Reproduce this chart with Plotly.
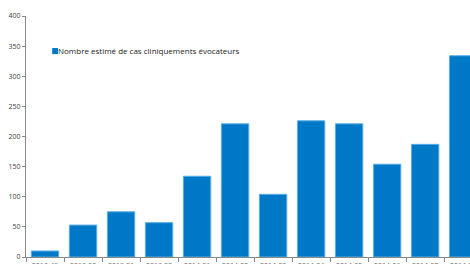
import plotly.graph_objects as go

weeks = ["2013-49", "2013-50", "2013-51", "2013-52", "2014-01", "2014-02",
         "2014-03", "2014-04", "2014-05", "2014-06", "2014-07", "2014-08"]
cases = [10, 53, 75, 57, 134, 221, 104, 226, 221, 154, 187, 334]
series_name = "Nombre estimé de cas cliniquements évocateurs"
y_ticks = [0, 50, 100, 150, 200, 250, 300, 350, 400]

fig = go.Figure()
fig.add_trace(go.Bar(
    x=weeks, y=cases, name=series_name,
    marker=dict(color="#0078C8", line=dict(color="#5AAEE6", width=1)),
    width=0.72, showlegend=False,
))

# legend key drawn as a small square + label (paper coordinates)
fig.add_shape(type="rect", xref="paper", yref="paper",
              x0=0.059, x1=0.072, y0=0.842, y1=0.867,
              fillcolor="#0078C8", line=dict(color="#0078C8", width=0))
fig.add_annotation(text=series_name, xref="paper", yref="paper",
                   x=0.068, y=0.855, xanchor="left", yanchor="middle",
                   showarrow=False, font=dict(size=8, color="#222"))

fig.update_layout(
    width=470, height=264,
    margin=dict(l=26, r=0, t=16, b=7),
    paper_bgcolor="white", plot_bgcolor="white",
    font=dict(family="Open Sans, Noto Sans, sans-serif", size=7, color="#404040"),
    showlegend=False,
)
fig.update_xaxes(
    type="category", range=[-0.5, 11.18], automargin=False,
    showline=True, linecolor="#888", linewidth=1,
    ticks="outside", tickson="boundaries", ticklen=4, tickcolor="#888",
    ticklabelstandoff=2,
    showgrid=False, tickfont=dict(size=7, color="#666"),
)
fig.update_yaxes(
    range=[0, 400], tickvals=y_ticks, automargin=False,
    showline=True, linecolor="#888", linewidth=1,
    ticks="outside", ticklen=3, tickcolor="#888",
    showgrid=False, zeroline=False, tickfont=dict(size=7, color="#404040"),
)

fig.write_html("out.html", config={"displayModeBar": False},
               post_script="document.body.style.margin='0';document.body.style.overflow='hidden';")
